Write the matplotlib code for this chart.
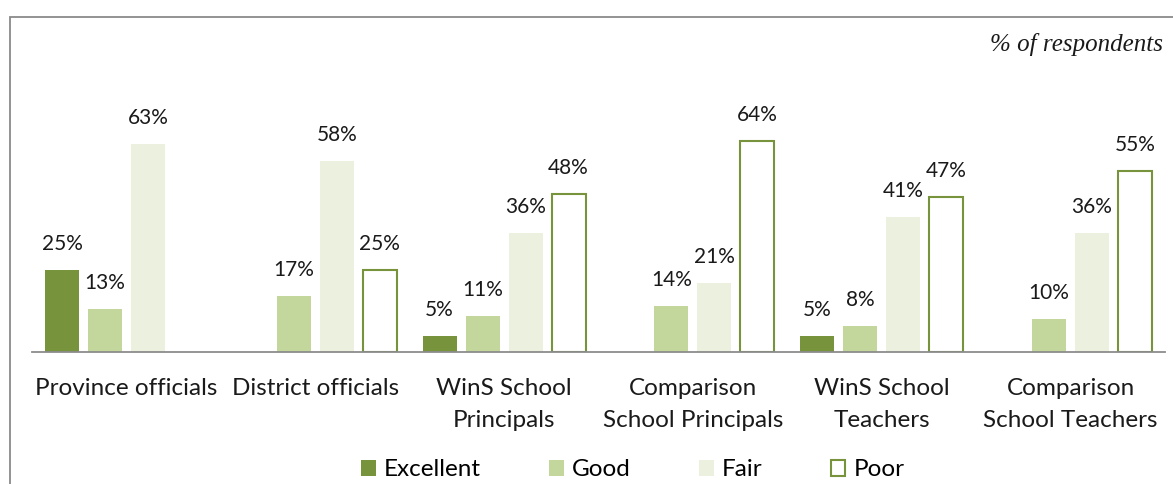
import matplotlib
matplotlib.use("Agg")
import matplotlib.pyplot as plt
from matplotlib.patches import Rectangle, Patch
import numpy as np

categories = ["Province officials", "District officials", "WinS School\nPrincipals",
              "Comparison\nSchool Principals", "WinS School\nTeachers", "Comparison\nSchool Teachers"]
series_names = ["Excellent", "Good", "Fair", "Poor"]
excellent = [25, None, 5, None, 5, None]
good = [13, 17, 11, 14, 8, 10]
fair = [63, 58, 36, 21, 41, 36]
poor = [None, 25, 48, 64, 47, 55]
values = [excellent, good, fair, poor]

facecolors = ["#77933C", "#C3D69B", "#EBF1DE", "white"]
edgecolors = ["#77933C", "#C3D69B", "#EBF1DE", "#77933C"]

W, H = 1173, 484
fig = plt.figure(figsize=(W / 100, H / 100), dpi=100)
font = "Lato"

# outer frame
fig.patches.append(Rectangle((10 / W, -0.1), 1.2, (H - 17.5) / H + 0.1, transform=fig.transFigure,
                             fill=False, edgecolor="#8a8a8a", linewidth=1.3))

ax = fig.add_axes([32 / W, (H - 352) / H, (1165 - 32) / W, (352 - 22) / H])
ax.set_xlim(-0.5, 5.5)
ax.set_ylim(0, 100)
x = np.arange(len(categories))
step = 43 / 189
width = 34 / 189
for i, (vals, fc, ec) in enumerate(zip(values, facecolors, edgecolors)):
    offs = (i - 1.5) * step
    for j, v in enumerate(vals):
        if v is None:
            continue
        lw = 1.5 if i == 3 else 0
        ax.bar(x[j] + offs, v, width, color=fc, edgecolor=ec, linewidth=lw)
        ax.annotate(f"{v}%", (x[j] + offs, v), xytext=(0, 11.5), textcoords="offset points",
                    ha="center", va="bottom", fontsize=15, family=font, color="#1a1a1a")

for s in ["top", "left", "right"]:
    ax.spines[s].set_visible(False)
ax.spines["bottom"].set_color("#8c8c8c")
ax.spines["bottom"].set_linewidth(1.3)
ax.set_yticks([])
ax.set_xticks(x)
ax.set_xticklabels(categories, fontsize=17.5, family=font, color="#1a1a1a", linespacing=1.62)
ax.tick_params(axis="x", length=0, pad=19)

fig.text(990 / W, 1 - 44 / H, "% of respondents", fontsize=18, family="Liberation Serif",
         style="italic", va="center", ha="left", color="#1a1a1a")

handles = [Patch(facecolor=fc, edgecolor=ec, linewidth=(1.5 if i == 3 else 0))
           for i, (fc, ec) in enumerate(zip(facecolors, edgecolors))]
fig.legend(handles, series_names, loc="center", bbox_to_anchor=(633 / W, 1 - 470 / H), ncol=4,
           frameon=False, prop={"family": font, "size": 17.5}, handlelength=0.6, handleheight=0.6,
           handletextpad=0.35, columnspacing=2.8)

fig.savefig("out.png", dpi=100)
